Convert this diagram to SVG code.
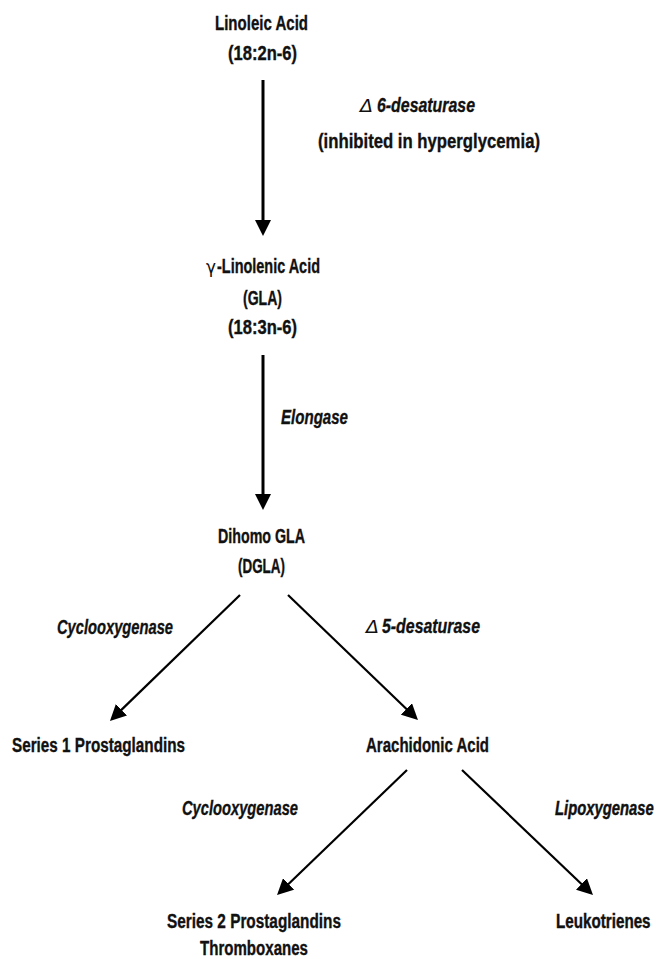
<svg xmlns="http://www.w3.org/2000/svg" width="656" height="959" viewBox="0 0 656 959">
<style>
.n{font-family:"Liberation Sans Narrow","Liberation Sans",Arial,sans-serif;font-weight:bold;font-size:19.5px;fill:#111;stroke:#111;stroke-width:0.35}
.e{font-family:"Liberation Sans Narrow","Liberation Sans",Arial,sans-serif;font-weight:bold;font-style:italic;font-size:19.5px;fill:#111;stroke:#111;stroke-width:0.35}
.w{font-family:"Liberation Sans",Arial,sans-serif;stroke-width:0.42}
.s{font-family:"DejaVu Sans","Liberation Sans",sans-serif;font-weight:normal;font-size:17px;fill:#111}
.c{stroke:#000;fill:none}
.v{stroke-width:3}
.d{stroke-width:2.2}
</style>
<defs>
<marker id="ah" viewBox="0 0 16 16" refX="8" refY="8" markerWidth="16" markerHeight="16" markerUnits="userSpaceOnUse" orient="auto">
<path d="M0,0 L16,8 L0,16 z" fill="#000"/>
</marker>
</defs>
<rect width="656" height="959" fill="#fff"/>
<g id="connectors">
<line class="c v" x1="263" y1="80" x2="263" y2="228" marker-end="url(#ah)"/>
<line class="c v" x1="263" y1="355" x2="263" y2="502" marker-end="url(#ah)"/>
<line class="c d" x1="240" y1="595" x2="115.7" y2="715.4" marker-end="url(#ah)"/>
<line class="c d" x1="288" y1="595" x2="412.2" y2="714.5" marker-end="url(#ah)"/>
<line class="c d" x1="407" y1="770" x2="282.8" y2="889.5" marker-end="url(#ah)"/>
<line class="c d" x1="462" y1="770" x2="587.2" y2="889.5" marker-end="url(#ah)"/>
<g id="edge-labels">
<text class="s" x="360" y="112" font-style="italic" textLength="13" lengthAdjust="spacingAndGlyphs">Δ</text>
<text class="e" x="377" y="112" textLength="98" lengthAdjust="spacingAndGlyphs">6-desaturase</text>
<text class="n" x="318" y="148" textLength="222" lengthAdjust="spacingAndGlyphs">(inhibited in hyperglycemia)</text>
<text class="e" x="281" y="424" textLength="67" lengthAdjust="spacingAndGlyphs">Elongase</text>
<text class="e" x="57" y="634" textLength="116" lengthAdjust="spacingAndGlyphs">Cyclooxygenase</text>
<text class="s" x="366" y="633" font-style="italic" textLength="13" lengthAdjust="spacingAndGlyphs">Δ</text>
<text class="e" x="382" y="633" textLength="98" lengthAdjust="spacingAndGlyphs">5-desaturase</text>
<text class="e" x="182" y="815" textLength="116" lengthAdjust="spacingAndGlyphs">Cyclooxygenase</text>
<text class="e w" transform="translate(555,815) scale(0.76,1)" x="0" y="0">Lipoxygenase</text>
</g>
</g>
<g id="linoleic">
<text class="n" x="215" y="30" textLength="93" lengthAdjust="spacingAndGlyphs">Linoleic Acid</text>
<text class="n" x="228" y="60" textLength="69" lengthAdjust="spacingAndGlyphs">(18:2n-6)</text>
</g>
<g id="gla">
<text class="s" x="206" y="273" textLength="10" lengthAdjust="spacingAndGlyphs">γ</text>
<text class="n" x="217" y="273" textLength="103" lengthAdjust="spacingAndGlyphs">-Linolenic Acid</text>
<text class="n" x="243" y="305" textLength="39" lengthAdjust="spacingAndGlyphs">(GLA)</text>
<text class="n" x="228" y="334" textLength="69" lengthAdjust="spacingAndGlyphs">(18:3n-6)</text>
</g>
<g id="dgla">
<text class="n" x="218" y="543" textLength="87" lengthAdjust="spacingAndGlyphs">Dihomo GLA</text>
<text class="n" x="238" y="573" textLength="47" lengthAdjust="spacingAndGlyphs">(DGLA)</text>
</g>
<g id="series1">
<text class="n" x="12" y="752" textLength="173" lengthAdjust="spacingAndGlyphs">Series 1 Prostaglandins</text>
</g>
<g id="arachidonic">
<text class="n" x="366" y="752" textLength="123" lengthAdjust="spacingAndGlyphs">Arachidonic Acid</text>
</g>
<g id="series2">
<text class="n" x="167" y="928" textLength="174" lengthAdjust="spacingAndGlyphs">Series 2 Prostaglandins</text>
<text class="n" x="200" y="955" textLength="108" lengthAdjust="spacingAndGlyphs">Thromboxanes</text>
</g>
<g id="leukotrienes">
<text class="n w" transform="translate(556,928) scale(0.78,1)" x="0" y="0">Leukotrienes</text>
</g>
</svg>
